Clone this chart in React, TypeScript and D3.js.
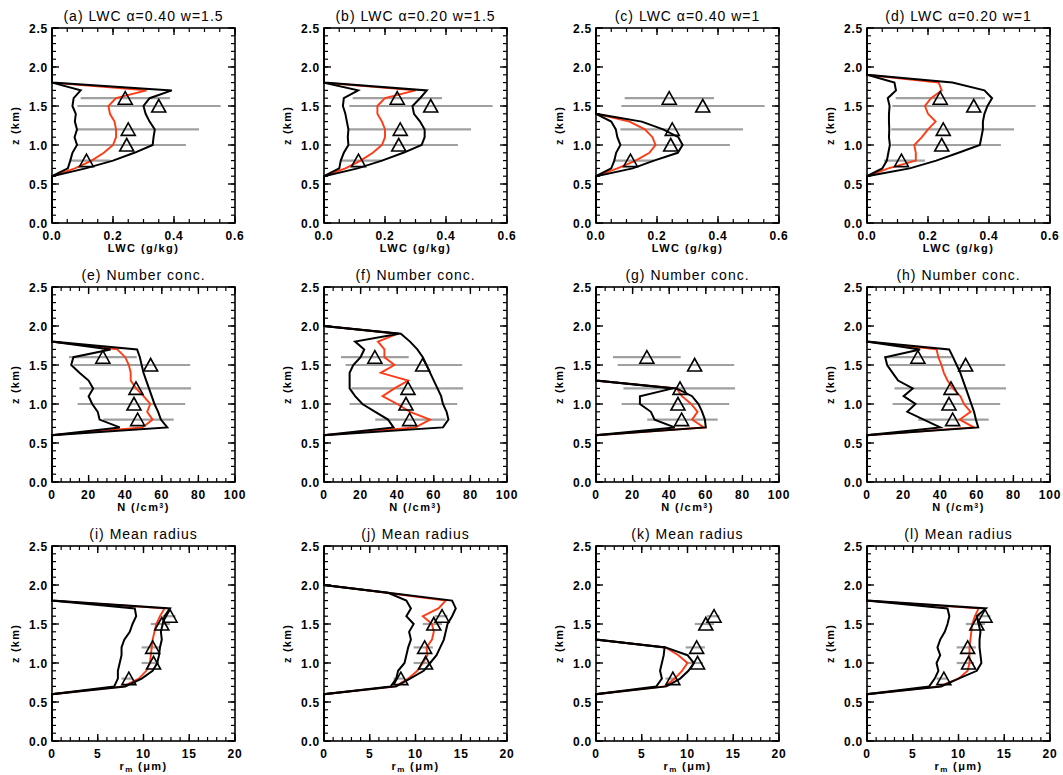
import React from "react";
import * as d3 from "d3";

// model profiles start at z = 0.7 km, one value every 0.1 km up to the cloud top
const zStart = 0.7;
const zStep = 0.1;

// LWC (g/kg), panels a-d
const lwcMin = [
  [0.052, 0.06, 0.067, 0.082, 0.074, 0.082, 0.075, 0.078, 0.067, 0.071, 0.094],
  [0.05, 0.055, 0.065, 0.08, 0.078, 0.08, 0.075, 0.07, 0.062, 0.065, 0.112],
  [0.05, 0.06, 0.066, 0.08, 0.07, 0.065, 0.05],
  [0.05, 0.065, 0.07, 0.075, 0.072, 0.073, 0.072, 0.072, 0.074, 0.068, 0.095, 0.09],
];
const lwcMean = [
  [0.075, 0.13, 0.17, 0.2, 0.21, 0.21, 0.205, 0.19, 0.185, 0.21, 0.31],
  [0.07, 0.12, 0.16, 0.19, 0.2, 0.2, 0.19, 0.175, 0.175, 0.2, 0.3],
  [0.07, 0.13, 0.175, 0.195, 0.185, 0.16, 0.11],
  [0.07, 0.16, 0.16, 0.155, 0.18, 0.2, 0.225, 0.2, 0.19, 0.21, 0.245, 0.235],
];
const lwcMax = [
  [0.11, 0.2, 0.27, 0.33, 0.333, 0.337, 0.32, 0.307, 0.3, 0.32, 0.393],
  [0.11, 0.19, 0.26, 0.32, 0.33, 0.33, 0.315, 0.295, 0.29, 0.315, 0.337],
  [0.12, 0.19, 0.268, 0.284, 0.27, 0.22, 0.15],
  [0.14, 0.227, 0.3, 0.37, 0.375, 0.38, 0.38, 0.385, 0.395, 0.41, 0.385, 0.28],
];

// number concentration (/cm3), panels e-h
const nMin = [
  [37, 26, 25, 22, 20, 22.5, 20, 15, 10.5, 11.7, 32],
  [38, 35, 28, 21, 17, 14, 14, 14, 16, 20, 22, 17, 41],
  [43, 32, 30, 24, 24, 42],
  [40, 31, 22, 26.5, 20, 25, 17, 14, 11, 10, 29],
];
const nMean = [
  [49.5, 55, 52, 53.7, 50, 46, 43, 43, 42, 40, 35.7],
  [50, 58, 47, 40, 32, 38.5, 46, 31, 38.5, 33, 33, 29.5, 40],
  [59, 52.5, 55.5, 52, 47, 44],
  [58.4, 50.7, 56.6, 53, 51, 47, 44, 42, 40.7, 39, 38],
];
const nMax = [
  [63, 59.5, 58, 56, 54.5, 53, 51.5, 50, 49, 48, 46.5],
  [65, 68, 67, 65, 64, 62, 60, 58, 56, 54, 51, 47, 42],
  [60, 59.5, 58, 56, 52.5, 44],
  [60.8, 59.5, 58.5, 57, 55.5, 54, 52.5, 51, 49, 47, 44.9],
];

// mean radius (um), panels i-l
const rMin = [
  [6.8, 7.2, 7.2, 7.4, 7.6, 7.6, 7.9, 8.5, 8.8, 9.2, 9.05],
  [7.3, 7.9, 8.1, 8.8, 9.0, 9.2, 9.5, 9.3, 9.8, 9.0, 9.5, 9.0, 7.0],
  [6.6, 7.2, 7.0, 7.2, 7.4, 7.5],
  [6.8, 7.4, 7.8, 7.6, 8.0, 7.7, 8.0, 8.5, 8.8, 9.0, 8.8],
];
const rMean = [
  [7.8, 9.5, 10.3, 10.7, 10.8, 10.9, 11.0, 11.2, 11.4, 11.8, 12.3],
  [7.8, 9.2, 10.2, 10.8, 11.3, 11.2, 11.8, 12.0, 11.8, 10.8, 12.5, 13.3, 6.8],
  [7.5, 8.6, 9.4, 10.0, 9.0, 7.6],
  [7.9, 10.0, 11.0, 11.2, 11.2, 11.2, 11.3, 11.4, 11.5, 11.8, 12.2],
];
const rMax = [
  [8.0, 9.8, 11.0, 11.5, 11.7, 11.8, 12.0, 11.9, 12.1, 12.3, 12.9],
  [7.9, 9.4, 10.9, 11.6, 12.3, 12.7, 13.1, 13.3, 13.5, 14.0, 14.4, 14.0, 7.0],
  [7.7, 9.2, 10.1, 10.7, 10.0, 7.6],
  [8.1, 10.0, 12.0, 12.5, 12.4, 12.3, 12.3, 12.4, 12.2, 12.0, 13.0],
];

// aircraft observations with their ranges
const obsZ = [1.6, 1.5, 1.2, 1.0, 0.8];
const lwcObs = [0.24, 0.35, 0.25, 0.245, 0.113];
const lwcLo = [0.094, 0.083, 0.08, 0.08, 0.056];
const lwcHi = [0.387, 0.553, 0.482, 0.439, 0.19];
const nObs = [27.8, 53.9, 45.9, 44.8, 46.8];
const nLo = [9.3, 11.8, 15, 14, 28];
const nHi = [46.3, 75.5, 76, 72.8, 66.5];
const rObs = [12.9, 12.0, 11.0, 11.1, 8.4];
const rLo = [12.1, 10.8, 9.8, 9.8, 7.6];
const rHi = [13.5, 12.9, 11.9, 11.7, 8.8];

const lwcTitles = ["(a) LWC α=0.40 w=1.5", "(b) LWC α=0.20 w=1.5", "(c) LWC α=0.40 w=1", "(d) LWC α=0.20 w=1"];
const nTitles = ["(e) Number conc.", "(f) Number conc.", "(g) Number conc.", "(h) Number conc."];
const rTitles = ["(i) Mean radius", "(j) Mean radius", "(k) Mean radius", "(l) Mean radius"];

const zTicks = [0, 0.5, 1.0, 1.5, 2.0, 2.5];
const lwcTicks = [0, 0.2, 0.4, 0.6];
const nTicks = [0, 20, 40, 60, 80, 100];
const rTicks = [0, 5, 10, 15, 20];

const colX = [52, 324, 596, 867];
const rowY = [28, 287, 546];
const PW = 183;
const PH = 195;
const FONT = "'Liberation Sans', Arial, sans-serif";
const RED = "#ff3a14";

function profile(vals: number[]): [number, number][] {
  const top = zStart + vals.length * zStep;
  const pts: [number, number][] = [[0, 0], [0, 0.6]];
  vals.forEach((v, i) => pts.push([v, zStart + i * zStep]));
  pts.push([0, top], [0, 2.5]);
  return pts;
}

interface PanelProps {
  x0: number;
  y0: number;
  title: string;
  xMax: number;
  xTicks: number[];
  minorStep: number;
  fmt: (v: number) => string;
  xLabel: React.ReactNode;
  min: number[];
  mean: number[];
  max: number[];
  obs: number[];
  lo: number[];
  hi: number[];
}

const Panel = (p: PanelProps) => {
  const x = d3.scaleLinear().domain([0, p.xMax]).range([p.x0, p.x0 + PW]);
  const y = d3.scaleLinear().domain([0, 2.5]).range([p.y0 + PH, p.y0]);
  const line = d3.line<[number, number]>().x((d) => x(d[0])).y((d) => y(d[1]));
  const xMinor = d3.range(0, p.xMax + 1e-9, p.minorStep);
  const zMinor = d3.range(0, 2.5 + 1e-9, 0.1);
  const bottom = p.y0 + PH;
  const right = p.x0 + PW;

  return (
    <g>
      <text x={p.x0 + PW / 2} y={p.y0 - 7} textAnchor="middle" fontSize={14} letterSpacing={1} fontFamily={FONT}>
        {p.title}
      </text>

      {/* gray observation ranges */}
      {obsZ.map((z, i) => (
        <line key={"b" + i} x1={x(p.lo[i])} x2={x(p.hi[i])} y1={y(z)} y2={y(z)} stroke="#a0a0a0" strokeWidth={2.2} />
      ))}

      <path d={line(profile(p.mean))!} fill="none" stroke={RED} strokeWidth={1.9} />
      <path d={line(profile(p.min))!} fill="none" stroke="#000" strokeWidth={2} />
      <path d={line(profile(p.max))!} fill="none" stroke="#000" strokeWidth={2} />

      {obsZ.map((z, i) => {
        const cx = x(p.obs[i]);
        const cy = y(z);
        return (
          <path
            key={"t" + i}
            d={`M${cx - 7},${cy + 6}L${cx + 7},${cy + 6}L${cx},${cy - 6.5}Z`}
            fill="none"
            stroke="#000"
            strokeWidth={1.6}
          />
        );
      })}

      {/* frame and ticks */}
      <rect x={p.x0} y={p.y0} width={PW} height={PH} fill="none" stroke="#000" strokeWidth={1.6} />
      {xMinor.map((v, i) => (
        <g key={"xm" + i}>
          <line x1={x(v)} x2={x(v)} y1={bottom} y2={bottom - 4} stroke="#000" strokeWidth={1.2} />
          <line x1={x(v)} x2={x(v)} y1={p.y0} y2={p.y0 + 4} stroke="#000" strokeWidth={1.2} />
        </g>
      ))}
      {p.xTicks.map((v, i) => (
        <g key={"xt" + i}>
          <line x1={x(v)} x2={x(v)} y1={bottom} y2={bottom - 7} stroke="#000" strokeWidth={1.4} />
          <line x1={x(v)} x2={x(v)} y1={p.y0} y2={p.y0 + 7} stroke="#000" strokeWidth={1.4} />
          <text x={x(v)} y={bottom + 17} textAnchor="middle" fontSize={12} fontWeight="bold" letterSpacing={0.8} fontFamily={FONT}>
            {p.fmt(v)}
          </text>
        </g>
      ))}
      {zMinor.map((v, i) => (
        <g key={"zm" + i}>
          <line x1={p.x0} x2={p.x0 + 4} y1={y(v)} y2={y(v)} stroke="#000" strokeWidth={1.2} />
          <line x1={right} x2={right - 4} y1={y(v)} y2={y(v)} stroke="#000" strokeWidth={1.2} />
        </g>
      ))}
      {zTicks.map((v, i) => (
        <g key={"zt" + i}>
          <line x1={p.x0} x2={p.x0 + 7} y1={y(v)} y2={y(v)} stroke="#000" strokeWidth={1.4} />
          <line x1={right} x2={right - 7} y1={y(v)} y2={y(v)} stroke="#000" strokeWidth={1.4} />
          <text x={p.x0 - 4} y={y(v) + 4.5} textAnchor="end" fontSize={12} fontWeight="bold" letterSpacing={0.8} fontFamily={FONT}>
            {v.toFixed(1)}
          </text>
        </g>
      ))}

      <text x={p.x0 + PW / 2} y={bottom + 29} textAnchor="middle" fontSize={11} fontWeight="bold" letterSpacing={1.4} fontFamily={FONT}>
        {p.xLabel}
      </text>
      <text
        transform={`translate(${p.x0 - 33},${p.y0 + PH / 2}) rotate(-90)`}
        textAnchor="middle"
        fontSize={11}
        fontWeight="bold"
        letterSpacing={1.2}
        fontFamily={FONT}
      >
        z (km)
      </text>
    </g>
  );
};

export default function App() {
  const f1 = d3.format(".1f");
  const f0 = d3.format("d");
  return (
    <svg width={1063} height={775} style={{ position: "absolute", left: 0, top: 0, background: "#fff" }}>
      <rect width={1063} height={775} fill="#fff" />
      {colX.map((cx, c) => (
        <g key={c}>
          <Panel
            x0={cx} y0={rowY[0]} title={lwcTitles[c]} xMax={0.6} xTicks={lwcTicks} minorStep={0.05} fmt={f1}
            xLabel="LWC (g/kg)" min={lwcMin[c]} mean={lwcMean[c]} max={lwcMax[c]} obs={lwcObs} lo={lwcLo} hi={lwcHi}
          />
          <Panel
            x0={cx} y0={rowY[1]} title={nTitles[c]} xMax={100} xTicks={nTicks} minorStep={5} fmt={f0}
            xLabel={<>N (/cm<tspan dy={-3} fontSize={7}>3</tspan><tspan dy={3}>)</tspan></>}
            min={nMin[c]} mean={nMean[c]} max={nMax[c]} obs={nObs} lo={nLo} hi={nHi}
          />
          <Panel
            x0={cx} y0={rowY[2]} title={rTitles[c]} xMax={20} xTicks={rTicks} minorStep={1} fmt={f0}
            xLabel={<>r<tspan dy={2} fontSize={8}>m</tspan><tspan dy={-2}> (μm)</tspan></>}
            min={rMin[c]} mean={rMean[c]} max={rMax[c]} obs={rObs} lo={rLo} hi={rHi}
          />
        </g>
      ))}
    </svg>
  );
}
